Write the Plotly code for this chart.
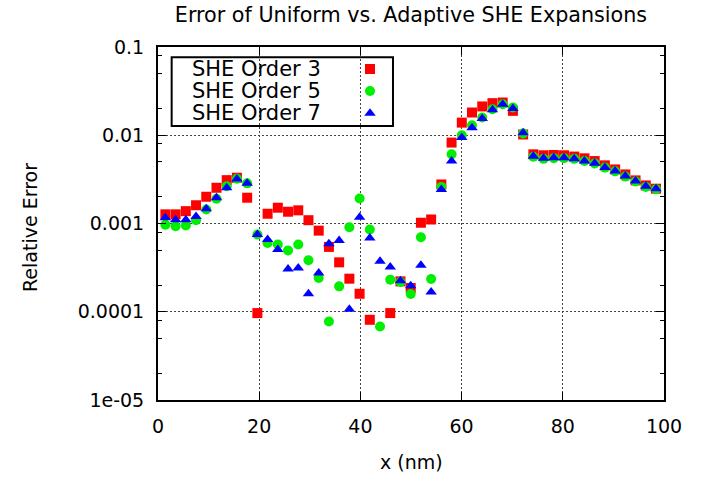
import plotly.graph_objects as go

# x positions (nm) of the 49 sample points
x_nm = [1.46, 3.48, 5.5, 7.52, 9.54, 11.56, 13.58, 15.6, 17.62, 19.64,
        21.66, 23.68, 25.7, 27.72, 29.74, 31.76, 33.78, 35.8, 37.82, 39.84,
        41.86, 43.88, 45.9, 47.92, 49.94, 51.96, 53.98, 56.0, 58.02, 60.04,
        62.06, 64.08, 66.1, 68.12, 70.14, 72.16, 74.18, 76.2, 78.22, 80.24,
        82.26, 84.28, 86.3, 88.32, 90.34, 92.36, 94.38, 96.4, 98.42]

she_order3 = [0.00127, 0.00127, 0.00138, 0.00161, 0.00201, 0.00254, 0.0031, 0.0033, 0.00196, 0.0000966,
              0.00129, 0.00151, 0.00136, 0.00141, 0.00109, 0.00083, 0.000543, 0.000363, 0.000237, 0.00016,
              0.0000811, None, 0.0000966, 0.000221, 0.000186, 0.00102, 0.00111, 0.00277, 0.00826, 0.0139,
              0.0181, 0.0212, 0.0231, 0.0235, 0.0189, 0.0102, 0.00608, 0.00593, 0.00597, 0.00593,
              0.00573, 0.00548, 0.0051, 0.00456, 0.0041, 0.0036, 0.00308, 0.0027, 0.00248]

she_order5 = [0.00097, 0.00093, 0.00095, 0.00109, 0.00144, 0.00191, 0.00265, 0.00322, 0.00285, 0.00075,
              0.0006, 0.000577, 0.000494, 0.000577, 0.000383, 0.000241, 0.0000776, 0.000194, 0.000908, 0.00192,
              0.000855, 0.000068, 0.000231, 0.000217, 0.000159, 0.0007, 0.000235, 0.0026, 0.00608, 0.01,
              0.013, 0.0159, 0.0197, 0.0225, 0.0206, 0.0105, 0.0057, 0.0054, 0.0055, 0.0055,
              0.0054, 0.0051, 0.0048, 0.0043, 0.0039, 0.0034, 0.003, 0.0026, 0.00245]

she_order7 = [0.00116, 0.0011, 0.0011, 0.0012, 0.00147, 0.00196, 0.00254, 0.0032, 0.00285, 0.00075,
              0.00066, 0.000507, 0.000306, 0.000314, 0.00016, 0.000275, 0.000588, 0.00064, 0.000107, 0.00118,
              0.000687, 0.000373, 0.000322, 0.000225, 0.000197, 0.000336, 0.000167, 0.00243, 0.0051, 0.0094,
              0.0122, 0.0155, 0.0194, 0.0225, 0.0201, 0.0107, 0.0058, 0.00548, 0.00557, 0.00557,
              0.00543, 0.0051, 0.00481, 0.0043, 0.00393, 0.00345, 0.00303, 0.00265, 0.00248]

series_names = ["SHE Order 3", "SHE Order 5", "SHE Order 7"]

x_tickvals = [0, 20, 40, 60, 80, 100]
y_tickvals = [1e-5, 1e-4, 1e-3, 1e-2, 1e-1]
y_ticktext = ["1e-05", "0.0001", "0.001", "0.01", "0.1"]
y_minor_vals = [2e-5, 5e-5, 8e-5, 2e-4, 5e-4, 8e-4, 2e-3, 5e-3, 8e-3, 2e-2, 5e-2, 8e-2]

FONT = "DejaVu Sans"
colors = ["#ff0000", "#00ee00", "#0000ff"]
symbols = ["square", "circle", "triangle-up"]
sizes = [10, 10, 10]

fig = go.Figure()
for ys, name, c, s, sz in zip([she_order3, she_order5, she_order7], series_names, colors, symbols, sizes):
    fig.add_trace(go.Scatter(x=x_nm, y=ys, mode="markers", name=name, showlegend=False,
                             marker=dict(symbol=s, color=c, size=sz, line=dict(width=0))))

# manual legend (text left, symbol right, as in the reference)
leg_rows = [0.9377, 0.8754, 0.8122]
leg_text_x = 0.063
leg_mark_x = 0.419
for name, c, s, sz, ry in zip(series_names, colors, symbols, sizes, leg_rows):
    fig.add_trace(go.Scatter(x=[leg_mark_x], y=[ry], xaxis="x2", yaxis="y2", mode="markers",
                             showlegend=False, hoverinfo="skip",
                             marker=dict(symbol=s, color=c, size=sz, line=dict(width=0))))
    fig.add_annotation(x=leg_text_x, y=ry, xref="paper", yref="paper", text=name, showarrow=False,
                       xanchor="left", yanchor="middle", font=dict(family=FONT, size=21, color="black"))

fig.add_shape(type="rect", xref="paper", yref="paper", x0=0.027, x1=0.4644, y0=0.776, y1=0.971,
              line=dict(color="black", width=2), fillcolor="white", layer="between")

axis_common = dict(showline=True, linewidth=2, linecolor="black", mirror="allticks",
                   ticks="inside", ticklen=8, tickwidth=1, tickcolor="black",
                   showgrid=True, gridcolor="#444444", griddash="2px,2px", gridwidth=1,
                   zeroline=False, tickfont=dict(family=FONT, size=19, color="black"))

fig.update_layout(
    width=716, height=479,
    margin=dict(l=158, r=52, t=47, b=79),
    paper_bgcolor="white", plot_bgcolor="white",
    font=dict(family=FONT, color="black"),
    title=dict(text="Error of Uniform vs. Adaptive SHE Expansions", x=0.5, xref="paper", xanchor="center",
               y=1 - 15 / 479, yref="container", yanchor="middle", font=dict(family=FONT, size=20.7)),
    xaxis=dict(range=[0, 100], tickmode="array", tickvals=x_tickvals, ticklabelstandoff=8, **axis_common),
    yaxis=dict(type="log", range=[-5, -1], tickmode="array", tickvals=y_tickvals, ticktext=y_ticktext,
               ticklabelstandoff=8,
               minor=dict(tickmode="array", tickvals=y_minor_vals, ticks="inside", ticklen=4,
                          tickcolor="black", tickwidth=1, showgrid=False),
               **axis_common),
    xaxis2=dict(overlaying="x", range=[0, 1], visible=False, fixedrange=True),
    yaxis2=dict(overlaying="y", range=[0, 1], visible=False, fixedrange=True),
    showlegend=False,
)

fig.add_annotation(x=0.5, y=(400 - 462) / 353, xref="paper", yref="paper", text="x (nm)", showarrow=False,
                   xanchor="center", yanchor="middle", font=dict(family=FONT, size=19))
fig.add_annotation(x=(30 - 158) / 506, y=(400 - 228) / 353, xref="paper", yref="paper", text="Relative Error",
                   showarrow=False, textangle=-90, xanchor="center", yanchor="middle",
                   font=dict(family=FONT, size=19))

fig.write_html("out.html", config={"displayModeBar": False},
               post_script="document.body.style.margin='0px';")
